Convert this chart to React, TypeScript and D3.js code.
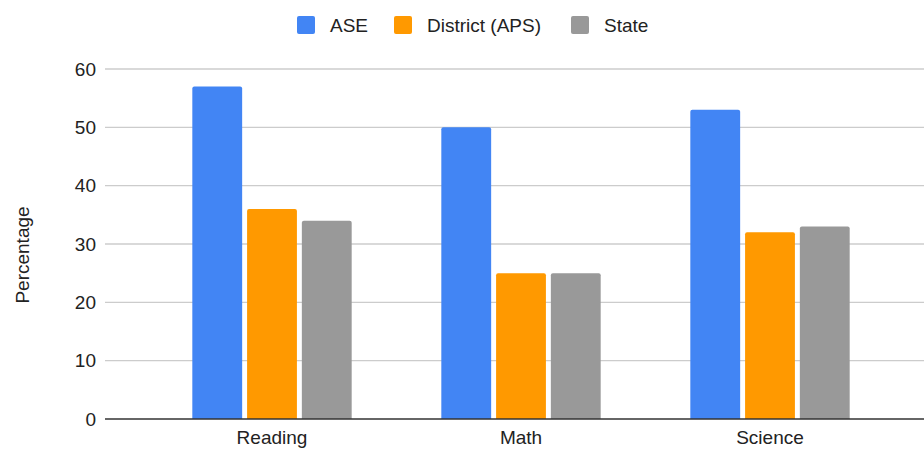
import React from "react";
import * as d3 from "d3";

const categories = ["Reading", "Math", "Science"];
const seriesNames = ["ASE", "District (APS)", "State"];
const aseValues = [57, 50, 53];
const districtValues = [36, 25, 32];
const stateValues = [34, 25, 33];
const yTicks = [0, 10, 20, 30, 40, 50, 60];
const colors = ["#4285F4", "#FF9900", "#999999"];

const W = 924;
const H = 449;
const FONT = "'Liberation Sans', Arial, sans-serif";

export default function App() {
  const series = [aseValues, districtValues, stateValues];
  const y = d3.scaleLinear().domain([0, 60]).range([419, 69]);
  const x0 = d3
    .scaleBand<string>()
    .domain(categories)
    .range([147.5, 894.5])
    .paddingInner(0.36)
    .paddingOuter(0.18);
  const x1 = d3
    .scaleBand<string>()
    .domain(seriesNames)
    .range([0, x0.bandwidth()])
    .paddingInner(0.09);

  const barPath = (x: number, top: number, w: number, bottom: number) => {
    const r = Math.min(2, (bottom - top) / 2);
    return `M${x},${bottom}V${top + r}Q${x},${top} ${x + r},${top}H${x + w - r}Q${x + w},${top} ${x + w},${top + r}V${bottom}Z`;
  };

  const legendX = [297, 394, 571];

  return (
    <svg
      width={W}
      height={H}
      style={{ position: "absolute", left: 0, top: 0, background: "#fff" }}
      fontFamily={FONT}
    >
      <rect width={W} height={H} fill="#fff" />
      {/* legend */}
      {seriesNames.map((name, i) => (
        <g key={name} transform={`translate(${legendX[i]},16)`}>
          <rect width={18} height={18} rx={2} fill={colors[i]} />
          <text x={33} y={9} dy="0.35em" fontSize={19} fill="#222">
            {name}
          </text>
        </g>
      ))}
      {/* gridlines */}
      {yTicks.map((t) =>
        t === 0 ? null : (
          <line key={t} x1={105} x2={W} y1={y(t)} y2={y(t)} stroke="#cccccc" strokeWidth={1.3} />
        )
      )}
      {/* y tick labels */}
      {yTicks.map((t) => (
        <text key={t} x={96} y={y(t)} dy="0.35em" textAnchor="end" fontSize={19} fill="#222">
          {t}
        </text>
      ))}
      {/* y title */}
      <text
        transform={`translate(22,${(y(0) + y(60)) / 2 + 11}) rotate(-90)`}
        textAnchor="middle"
        dy="0.35em"
        fontSize={19}
        fill="#222"
      >
        Percentage
      </text>
      {/* bars */}
      {categories.map((c, ci) => (
        <g key={c} transform={`translate(${x0(c)},0)`}>
          {seriesNames.map((s, si) => (
            <path
              key={s}
              d={barPath(x1(s)!, y(series[si][ci]), x1.bandwidth(), y(0))}
              fill={colors[si]}
            />
          ))}
        </g>
      ))}
      {/* baseline */}
      <line x1={105} x2={W} y1={y(0)} y2={y(0)} stroke="#333333" strokeWidth={1.5} />
      {/* x labels */}
      {categories.map((c) => (
        <text
          key={c}
          x={x0(c)! + x0.bandwidth() / 2}
          y={444}
          textAnchor="middle"
          fontSize={19}
          fill="#222"
        >
          {c}
        </text>
      ))}
    </svg>
  );
}
